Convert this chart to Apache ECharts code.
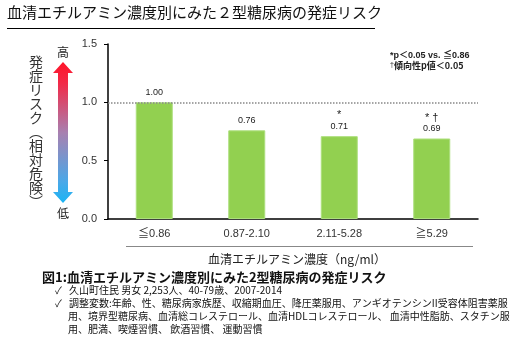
<!DOCTYPE html>
<html>
<head>
<meta charset="utf-8">
<script src="https://cdn.jsdelivr.net/npm/echarts@6/dist/echarts.min.js"></script>
<style>
  html, body { margin: 0; padding: 0; background: #fff; }
  #chart { width: 523px; height: 343px; }
</style>
</head>
<body>
<div id="chart"></div>
<script>
// 血清エチルアミン濃度（四分位）別の2型糖尿病発症の相対危険
const categories = ['≦0.86', '0.87-2.10', '2.11-5.28', '≧5.29'];
const riskValues = [1.00, 0.76, 0.71, 0.69];
const sigMarks = ['', '', '*', '* †'];
const yTickStep = 0.5;
const yMax = 1.5;

const JP = "'Noto Sans CJK JP', 'Liberation Sans', sans-serif";
const NUM = "'Liberation Sans', 'Noto Sans CJK JP', sans-serif";

const chart = echarts.init(document.getElementById('chart'), null, { renderer: 'canvas' });

const arrowGradient = new echarts.graphic.LinearGradient(0, 0, 0, 1, [
  { offset: 0, color: '#ff1428' },
  { offset: 0.15, color: '#f22a48' },
  { offset: 0.5, color: '#a880b0' },
  { offset: 0.85, color: '#4aa8e8' },
  { offset: 1, color: '#1ab4f4' }
]);

const notes = [
  { text: '✓', x: 55, y: 290 },
  { text: '久山町住民 男女 2,253人、40-79歳、2007-2014', x: 69, y: 290 },
  { text: '✓', x: 55, y: 303 },
  { text: '調整変数:年齢、性、糖尿病家族歴、収縮期血圧、降圧薬服用、アンギオテンシンII受容体阻害薬服', x: 69, y: 303 },
  { text: '用、境界型糖尿病、血清総コレステロール、血清HDLコレステロール、 血清中性脂肪、スタチン服', x: 68, y: 316 },
  { text: '用、肥満、喫煙習慣、 飲酒習慣、 運動習慣', x: 68, y: 329 }
];

const option = {
  backgroundColor: '#fff',
  animation: false,
  grid: { left: 108, right: 45, top: 44, bottom: 124 },
  xAxis: {
    type: 'category',
    data: categories,
    axisLine: { lineStyle: { color: '#000', width: 1.5 } },
    axisTick: { show: false },
    axisLabel: { fontSize: 11, color: '#333', margin: 9, fontFamily: NUM }
  },
  yAxis: {
    type: 'value',
    min: 0,
    max: yMax,
    interval: yTickStep,
    axisLine: { show: true, lineStyle: { color: '#000', width: 1.5 } },
    axisTick: { show: true, length: 4, lineStyle: { color: '#000' } },
    splitLine: { show: false },
    axisLabel: {
      fontSize: 11, color: '#333', margin: 11, fontFamily: NUM,
      formatter: v => v.toFixed(1)
    }
  },
  series: [{
    type: 'bar',
    data: riskValues,
    barWidth: '40%',
    itemStyle: { color: '#92d050', borderColor: '#acdf7c', borderWidth: 1 },
    label: {
      show: true,
      position: 'top',
      distance: 4,
      fontFamily: NUM,
      formatter: p => {
        const v = p.value.toFixed(2);
        const m = sigMarks[p.dataIndex];
        return m ? '{s|' + m + '}\n{v|' + v + '}' : '{v|' + v + '}';
      },
      rich: {
        s: { fontSize: 11, color: '#222', lineHeight: 12, fontFamily: NUM },
        v: { fontSize: 9, color: '#222', lineHeight: 11, fontFamily: NUM }
      }
    },
    markLine: {
      silent: true,
      symbol: 'none',
      label: { show: false },
      lineStyle: { type: 'dotted', color: '#888', width: 1.5 },
      data: [{ yAxis: 1 }]
    }
  }],
  graphic: [
    // 見出し
    {
      type: 'text', left: 7, top: 5,
      style: { text: '血清エチルアミン濃度別にみた２型糖尿病の発症リスク', fontSize: 15, fill: '#111', fontFamily: JP }
    },
    { type: 'line', shape: { x1: 7, y1: 28.5, x2: 375, y2: 28.5 }, style: { stroke: '#000', lineWidth: 1 } },
    // 有意差の注記
    {
      type: 'text', x: 390, y: 56,
      style: { text: '*p＜0.05 vs. ≦0.86', fontSize: 9, fill: '#222', fontWeight: 'bold', fontFamily: NUM, verticalAlign: 'middle' }
    },
    {
      type: 'text', x: 390, y: 66,
      style: {
        text: '{d|†}傾向性p値＜0.05', fontSize: 9, fill: '#222', fontWeight: 'bold', fontFamily: JP, verticalAlign: 'middle',
        rich: { d: { fontSize: 7, verticalAlign: 'top', fill: '#222' } }
      }
    },
    // 縦軸の説明
    {
      type: 'text', x: 36, y: 55,
      style: {
        text: '発症リスク︵相対危険︶'.split('').join('\n'),
        fontSize: 14, lineHeight: 14, fill: '#333', fontFamily: JP, align: 'center'
      }
    },
    {
      type: 'polygon',
      shape: {
        points: [[63, 62], [73, 73], [68, 73], [68, 192], [73, 192], [63, 203], [53, 192], [58, 192], [58, 73], [53, 73]]
      },
      style: { fill: arrowGradient }
    },
    { type: 'text', x: 63, y: 52, style: { text: '高', fontSize: 12, fill: '#222', fontFamily: JP, align: 'center', verticalAlign: 'middle' } },
    { type: 'text', x: 63, y: 213, style: { text: '低', fontSize: 12, fill: '#222', fontFamily: JP, align: 'center', verticalAlign: 'middle' } },
    // 横軸名とその上の区切り線
    { type: 'line', shape: { x1: 126, y1: 246.5, x2: 473, y2: 246.5 }, style: { stroke: '#888', lineWidth: 1 } },
    {
      type: 'text', x: 297, y: 259,
      style: { text: '血清エチルアミン濃度（ng/ml）', fontSize: 12, fill: '#222', fontFamily: JP, align: 'center', verticalAlign: 'middle' }
    },
    // 図の説明
    {
      type: 'text', x: 42, y: 277,
      style: { text: '図1:血清エチルアミン濃度別にみた2型糖尿病の発症リスク', fontSize: 13, fontWeight: 'bold', fill: '#111', fontFamily: JP, verticalAlign: 'middle' }
    }
  ].concat(notes.map(n => ({
    type: 'text', x: n.x, y: n.y,
    style: { text: n.text, fontSize: 10, fill: '#111', fontFamily: JP, verticalAlign: 'middle' }
  })))
};

chart.setOption(option);
</script>
</body>
</html>
